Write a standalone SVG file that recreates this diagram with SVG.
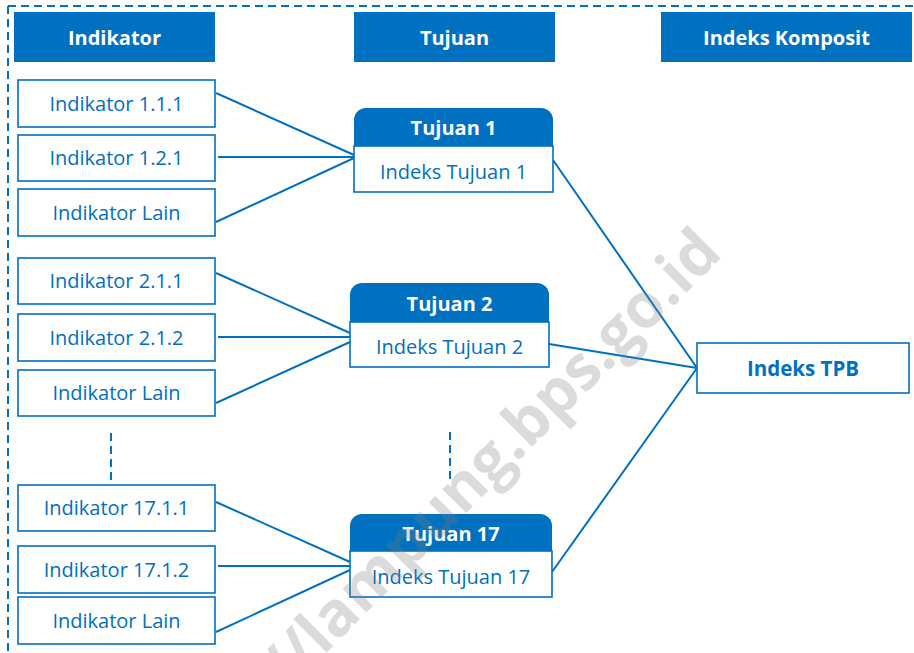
<svg xmlns="http://www.w3.org/2000/svg" width="914" height="653" viewBox="0 0 914 653">
  <style>
    .hdr { fill: #0070C0; }
    .hdr-txt { font-family: "Open Sans", "Noto Sans", sans-serif; font-size: 20px; font-weight: bold; fill: #ffffff; text-anchor: middle; }
    .box { fill: #ffffff; stroke: #0070C0; stroke-width: 1.6; }
    .box-txt { font-family: "Open Sans", "Noto Sans", sans-serif; font-size: 20px; fill: #0070C0; text-anchor: middle; }
    .box-bold { font-weight: bold; font-size: 20.5px; }
    .link { stroke: #0070C0; stroke-width: 2; fill: none; }
    .dash { stroke: #0070C0; stroke-width: 2; fill: none; stroke-dasharray: 8 5; }
    .mark { font-family: "Open Sans", "Noto Sans", sans-serif; font-size: 62px; font-weight: bold; fill: #7f7f7f; opacity: 0.28; text-anchor: middle; }
  </style>

  <rect width="914" height="653" fill="#ffffff"/>

  <!-- dashed frame (top and left edges) -->
  <g id="frame">
    <line class="dash" x1="8" y1="6" x2="914" y2="6"/>
    <line class="dash" x1="8" y1="6" x2="8" y2="653"/>
  </g>

  <!-- column headers -->
  <g id="hdr-indikator">
    <rect class="hdr" x="14" y="12" width="201" height="50"/>
    <text class="hdr-txt" x="114.5" y="44.5">Indikator</text>
  </g>
  <g id="hdr-tujuan">
    <rect class="hdr" x="354" y="12" width="201" height="50"/>
    <text class="hdr-txt" x="454.5" y="44.5">Tujuan</text>
  </g>
  <g id="hdr-komposit">
    <rect class="hdr" x="661" y="12" width="251" height="50"/>
    <text class="hdr-txt" x="786.5" y="44.5">Indeks Komposit</text>
  </g>

  <!-- connectors -->
  <g id="connectors">
    <line class="link" x1="216" y1="93" x2="354" y2="155"/>
    <line class="link" x1="218" y1="157" x2="354" y2="157"/>
    <line class="link" x1="216" y1="222" x2="354" y2="158"/>

    <line class="link" x1="216" y1="273" x2="350" y2="333"/>
    <line class="link" x1="218" y1="337" x2="350" y2="337"/>
    <line class="link" x1="216" y1="403" x2="350" y2="342"/>

    <line class="link" x1="216" y1="502" x2="350" y2="562"/>
    <line class="link" x1="218" y1="566" x2="350" y2="566"/>
    <line class="link" x1="216" y1="632" x2="350" y2="570"/>

    <line class="link" x1="553" y1="160" x2="697" y2="368"/>
    <line class="link" x1="549" y1="344" x2="697" y2="368"/>
    <line class="link" x1="552" y1="572" x2="697" y2="368"/>
  </g>

  <!-- continuation marks -->
  <g id="ellipsis">
    <line class="dash" x1="111" y1="433" x2="111" y2="480" stroke-dasharray="8 4"/>
    <line class="dash" x1="450" y1="432" x2="450" y2="479" stroke-dasharray="8 4"/>
  </g>

  <!-- indicator boxes -->
  <g id="ind-1-1-1"><rect class="box" x="18" y="80" width="197" height="47"/><text class="box-txt" x="116.5" y="110.5">Indikator 1.1.1</text></g>
  <g id="ind-1-2-1"><rect class="box" x="18" y="135" width="197" height="46"/><text class="box-txt" x="116.5" y="165">Indikator 1.2.1</text></g>
  <g id="ind-1-lain"><rect class="box" x="18" y="189" width="197" height="47"/><text class="box-txt" x="116.5" y="219.5">Indikator Lain</text></g>

  <g id="ind-2-1-1"><rect class="box" x="18" y="258" width="197" height="46"/><text class="box-txt" x="116.5" y="288">Indikator 2.1.1</text></g>
  <g id="ind-2-1-2"><rect class="box" x="18" y="314" width="197" height="47"/><text class="box-txt" x="116.5" y="344.5">Indikator 2.1.2</text></g>
  <g id="ind-2-lain"><rect class="box" x="18" y="370" width="197" height="46"/><text class="box-txt" x="116.5" y="400">Indikator Lain</text></g>

  <g id="ind-17-1-1"><rect class="box" x="18" y="485" width="197" height="46"/><text class="box-txt" x="116.5" y="515">Indikator 17.1.1</text></g>
  <g id="ind-17-1-2"><rect class="box" x="18" y="546" width="197" height="47"/><text class="box-txt" x="116.5" y="576.5">Indikator 17.1.2</text></g>
  <g id="ind-17-lain"><rect class="box" x="18" y="597" width="197" height="47"/><text class="box-txt" x="116.5" y="627.5">Indikator Lain</text></g>

  <!-- goal nodes: rounded header + index body -->
  <g id="tujuan-1">
    <path class="hdr" d="M354,146 V120 A12,12 0 0 1 366,108 H541 A12,12 0 0 1 553,120 V146 Z"/>
    <rect class="box" x="354" y="146" width="199" height="46"/>
    <text class="hdr-txt" x="453.5" y="135">Tujuan 1</text>
    <text class="box-txt" x="453.5" y="178.5">Indeks Tujuan 1</text>
  </g>
  <g id="tujuan-2">
    <path class="hdr" d="M350,322 V295 A12,12 0 0 1 362,283 H537 A12,12 0 0 1 549,295 V322 Z"/>
    <rect class="box" x="350" y="322" width="199" height="45"/>
    <text class="hdr-txt" x="449.5" y="311">Tujuan 2</text>
    <text class="box-txt" x="449.5" y="354">Indeks Tujuan 2</text>
  </g>
  <g id="tujuan-17">
    <path class="hdr" d="M350,551 V526 A12,12 0 0 1 362,514 H540 A12,12 0 0 1 552,526 V551 Z"/>
    <rect class="box" x="350" y="551" width="202" height="46"/>
    <text class="hdr-txt" x="451" y="541">Tujuan 17</text>
    <text class="box-txt" x="451" y="584">Indeks Tujuan 17</text>
  </g>

  <!-- composite index -->
  <g id="indeks-tpb">
    <rect class="box" x="697" y="343" width="212" height="50"/>
    <text class="box-txt box-bold" x="803" y="375.5">Indeks TPB</text>
  </g>

  <!-- site watermark -->
  <text class="mark" transform="translate(490,458) rotate(-45)" y="22">//lampung.bps.go.id</text>
</svg>
